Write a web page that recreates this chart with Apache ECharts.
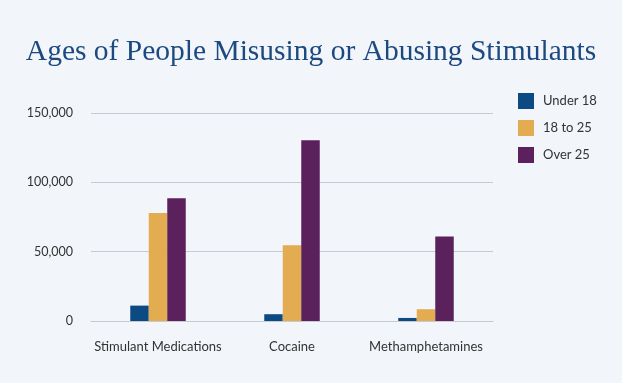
<!DOCTYPE html>
<html><head><meta charset="utf-8">
<script src="https://cdn.jsdelivr.net/npm/echarts@6/dist/echarts.min.js"></script>
<style>html,body{margin:0;padding:0;background:#f2f5f9;}#c{width:622px;height:383px;}</style>
</head><body><div id="c"></div>
<script>
const categories = ['Stimulant Medications', 'Cocaine', 'Methamphetamines'];
const seriesNames = ['Under 18', '18 to 25', 'Over 25'];
const under18 = [11100, 4900, 2200];
const age18to25 = [77900, 54600, 8500];
const over25 = [88600, 130300, 60900];
const colors = ['#0b4a82', '#e3ac51', '#5a215c'];

const chart = echarts.init(document.getElementById('c'));
const values = [under18, age18to25, over25];
chart.setOption({
  backgroundColor: '#f2f5f9',
  animation: false,
  title: {
    text: 'Ages of People Misusing or Abusing Stimulants',
    left: 'center', top: 32,
    textStyle: { fontFamily: 'Liberation Serif', fontWeight: 'normal', fontSize: 29.5, color: '#1c4a80' }
  },
  legend: {
    orient: 'vertical', left: 518, top: 93, padding: 0,
    itemWidth: 16, itemHeight: 16, itemGap: 11,
    icon: 'rect',
    textStyle: { fontFamily: 'Lato', fontSize: 13, color: '#333', padding: [0,0,0,4] },
    data: seriesNames
  },
  grid: { left: 91, right: 129, top: 113, bottom: 62 },
  xAxis: {
    type: 'category', data: categories,
    axisLine: { lineStyle: { color: '#c6cbd2' } },
    axisTick: { show: false },
    axisLabel: { interval: 0, fontFamily: 'Lato', fontSize: 13, color: '#333', margin: 19 }
  },
  yAxis: {
    type: 'value', min: 0, max: 150000, interval: 50000,
    axisLine: { show: false }, axisTick: { show: false },
    splitLine: { lineStyle: { color: '#c6cbd2' } },
    axisLabel: { fontFamily: 'Lato', fontSize: 12.5, color: '#333', margin: 18,
      formatter: v => v.toLocaleString('en-US') }
  },
  series: seriesNames.map((n, i) => ({
    name: n, type: 'bar', data: values[i], barWidth: 18.5, barGap: '0%',
    itemStyle: { color: colors[i] }
  }))
});
</script></body></html>
